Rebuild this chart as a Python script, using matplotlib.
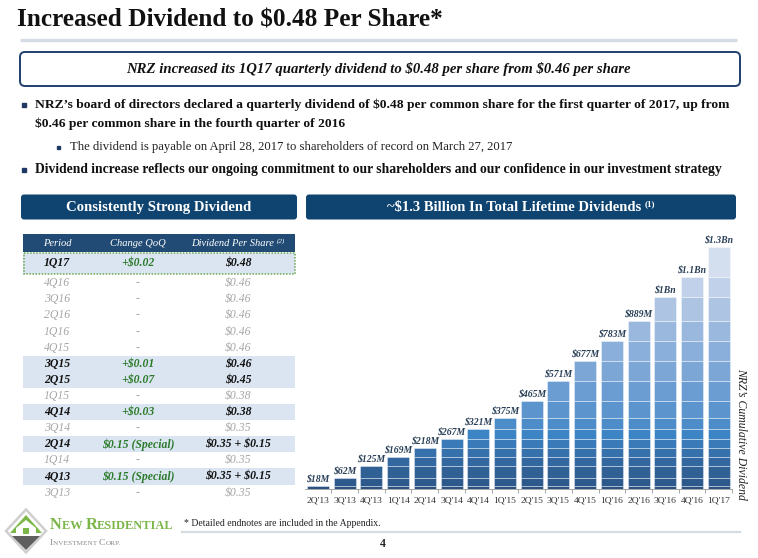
"""NRZ dividend slide: per-share table on the left, cumulative dividends on the right."""

import matplotlib.pyplot as plt
from matplotlib.colors import LinearSegmentedColormap
from matplotlib.patches import FancyBboxPatch, Polygon, Rectangle

plt.rcParams["text.parse_math"] = False
plt.rcParams["font.family"] = ["Liberation Serif", "DejaVu Serif"]

W, H = 758, 558
NAVY = "#0f4470"
NAVY_HDR = "#214b74"
LIGHT_ROW = "#dbe5f1"
GREEN = "#2b7a2b"
GREY_TXT = "#a6a6a6"
LABEL_CLR = "#2a4058"

# cumulative dividends ($M) per quarter
quarters = ["2Q'13", "3Q'13", "4Q'13", "1Q'14", "2Q'14", "3Q'14", "4Q'14", "1Q'15",
            "2Q'15", "3Q'15", "4Q'15", "1Q'16", "2Q'16", "3Q'16", "4Q'16", "1Q'17"]
cumulative_m = [18, 62, 125, 169, 218, 267, 321, 375, 465, 571, 677, 783, 889, 1015, 1125, 1280]
value_labels = ["$18M", "$62M", "$125M", "$169M", "$218M", "$267M", "$321M", "$375M",
                "$465M", "$571M", "$677M", "$783M", "$889M", "$1Bn", "$1.1Bn", "$1.3Bn"]

# dividend table
periods = ["1Q17", "4Q16", "3Q16", "2Q16", "1Q16", "4Q15", "3Q15", "2Q15", "1Q15",
           "4Q14", "3Q14", "2Q14", "1Q14", "4Q13", "3Q13"]
changes = ["+$0.02", "-", "-", "-", "-", "-", "+$0.01", "+$0.07", "-", "+$0.03", "-",
           "$0.15 (Special)", "-", "$0.15 (Special)", "-"]
dividends = ["$0.48", "$0.46", "$0.46", "$0.46", "$0.46", "$0.46", "$0.46", "$0.45", "$0.38",
             "$0.38", "$0.35", "$0.35 + $0.15", "$0.35", "$0.35 + $0.15", "$0.35"]
changed = [c != "-" for c in changes]

fig = plt.figure(figsize=(W / 100, H / 100), dpi=100)
bg = fig.add_axes([0, 0, 1, 1])
bg.set_xlim(0, W)
bg.set_ylim(H, 0)
bg.axis("off")
renderer = fig.canvas.get_renderer()


def width(t):
    return t.get_window_extent(renderer=renderer).width


def runs(x, y, parts, ha="left", **common):
    """Draw consecutive text pieces (text, style, dy) on one line."""
    objs, cx = [], x
    for txt, kw, dy in parts:
        t = bg.text(cx, y + dy, txt, ha="left", va="center", **{**common, **kw})
        cx += width(t)
        objs.append(t)
    if ha == "center":
        shift = (cx - x) / 2
        for t in objs:
            t.set_x(t.get_position()[0] - shift)
    return objs


# title + rule
bg.text(17, 20, "Increased Dividend to $0.48 Per Share*", fontsize=18.2,
        fontweight="bold", va="center", color="#111")
bg.plot([20, 737], [40, 40], color="#d5dbe2", lw=2.4, solid_capstyle="butt")

# summary box
bg.add_patch(FancyBboxPatch((20, 52), 720, 34, boxstyle="round,pad=0,rounding_size=5",
                            fc="white", ec="#1f3f6b", lw=1.4))
bg.text(378, 69, "NRZ increased its 1Q17 quarterly dividend to $0.48 per share from $0.46 per share",
        ha="center", va="center", fontsize=10.6, fontweight="bold", fontstyle="italic", color="#111")

# bullets
for by, bx, sz in [(105, 22, 4), (170, 22, 4), (147, 57, 3)]:
    bg.add_patch(Rectangle((bx, by - sz / 2), sz, sz, color="#1f3864"))
bg.text(35, 105, "NRZ\u2019s board of directors declared a quarterly dividend of $0.48 per common share "
        "for the first quarter of 2017, up from", fontsize=9.7, fontweight="bold", va="center", color="#111")
bg.text(35, 124, "$0.46 per common share in the fourth quarter of 2016",
        fontsize=9.7, fontweight="bold", va="center", color="#111")
bg.text(70, 147, "The dividend is payable on April 28, 2017 to shareholders of record on March 27, 2017",
        fontsize=9.1, va="center", color="#222")
bg.text(35, 170, "Dividend increase reflects our ongoing commitment to our shareholders and our "
        "confidence in our investment strategy", fontsize=9.85, fontweight="bold", va="center", color="#111")

# section headers
for x0, x1 in [(21, 297), (306, 736)]:
    bg.add_patch(FancyBboxPatch((x0, 194.5), x1 - x0, 25, boxstyle="round,pad=0,rounding_size=3",
                                fc=NAVY, ec="none"))
bg.text(159, 207, "Consistently Strong Dividend", ha="center", va="center",
        fontsize=10.6, fontweight="bold", color="white")
runs(521, 207, [("~$1.3 Billion In Total Lifetime Dividends ", {"fontsize": 10.5}, 0),
                ("(1)", {"fontsize": 6.5}, -3)], ha="center", fontweight="bold", color="white")

# table
COLS = [57, 138, 238]
bg.add_patch(Rectangle((23, 234), 272, 18, fc=NAVY_HDR, ec="none"))
for cx, lab in zip(COLS[:2], ["Period", "Change QoQ"]):
    bg.text(cx, 243, lab, ha="center", va="center", fontsize=7.6, fontstyle="italic", color="white")
runs(238, 243, [("Dividend Per Share ", {"fontsize": 7.6}, 0), ("(2)", {"fontsize": 5}, -2)],
     ha="center", fontstyle="italic", color="white")

row_y = [263.3] + [283.3 + 16.1 * k for k in range(len(periods) - 1)]
for i, (p, c, d, hi) in enumerate(zip(periods, changes, dividends, changed)):
    y = row_y[i]
    if hi:
        h = 21 if i == 0 else 16.1
        bg.add_patch(Rectangle((23, y - h / 2), 272, h, fc=LIGHT_ROW, ec="none", zorder=0))
        style = dict(fontsize=8.5, fontweight="bold", fontstyle="italic")
        bg.text(COLS[0], y, p, ha="center", va="center", color="#111", **style)
        bg.text(COLS[1], y, c, ha="center", va="center", color=GREEN, **style)
        bg.text(COLS[2], y, d, ha="center", va="center", color="#111", **style)
    else:
        style = dict(fontsize=8.5, fontstyle="italic", color=GREY_TXT)
        bg.text(COLS[0], y, p, ha="center", va="center", **style)
        bg.text(COLS[1], y, c, ha="center", va="center", **style)
        bg.text(COLS[2], y, d, ha="center", va="center", **style)
bg.add_patch(Rectangle((23.5, 252.5), 271, 21, fc="none", ec="#6aa84f", lw=1.1, ls=(0, (1, 1))))

# cumulative bar chart: each bar stacks all quarterly increments so far
ax = fig.add_axes([304.6 / W, (H - 489.3) / H, 427.5 / W, (489.3 - 230) / H])
cmap = LinearSegmentedColormap.from_list(
    "nrz", ["#2c5282", "#33679f", "#3d84c4", "#6b9dd2", "#9ab8de", "#d3deee"])
xs = list(range(len(quarters)))
prev = 0
for i, cum in enumerate(cumulative_m):
    ax.bar(xs[i:], cum - prev, bottom=prev, width=0.82, color=cmap(i / (len(quarters) - 1)),
           edgecolor=(1, 1, 1, 0.45), linewidth=0.6)
    prev = cum
for x, cum, lab in zip(xs, cumulative_m, value_labels):
    ax.annotate(lab, (x, cum), xytext=(0, 2), textcoords="offset points", ha="center", va="bottom",
                fontsize=7, fontweight="bold", fontstyle="italic", color=LABEL_CLR)
ax.set_xlim(-0.5, len(quarters) - 0.5)
ax.set_ylim(0, 259.3 / 0.18905)
ax.set_xticks(xs)
ax.set_xticklabels(quarters, fontsize=6.8, color="#333")
ax.set_xticks([x + 0.5 for x in xs], minor=True)
ax.tick_params(axis="x", which="major", length=0, pad=5)
ax.tick_params(axis="x", which="minor", length=3, width=0.6, color="#999")
ax.set_yticks([])
for s in ("top", "left", "right"):
    ax.spines[s].set_visible(False)
ax.spines["bottom"].set_color("#999")
ax.spines["bottom"].set_linewidth(0.6)
ax.patch.set_alpha(0)
bg.text(741, 434, "NRZ\u2019s Cumulative Dividend", rotation=-90, ha="center", va="center",
        fontsize=8.5, fontstyle="italic", color="#222")

# footer logo
bg.add_patch(Polygon([(26, 509.5), (46, 531), (26, 552.5), (6, 531)], closed=True,
                     fc="white", ec="#cfcfcf", lw=1.8))
bg.add_patch(Polygon([(12, 536), (40, 536), (26, 550)], closed=True, fc="#5f5f5f", ec="none"))
bg.add_patch(Polygon([(10, 533), (26, 515), (42, 533)], closed=True, fc="#7ab648", ec="none"))
bg.add_patch(Polygon([(16, 534), (16, 528), (26, 520), (36, 528), (36, 534)], closed=True,
                     fc="white", ec="none"))
bg.add_patch(Rectangle((23, 528), 6, 6, fc="#7ab648", ec="none"))
runs(50, 525, [("N", {"fontsize": 11.8}, 0), ("EW ", {"fontsize": 8.9}, 0.6),
               ("R", {"fontsize": 11.8}, 0), ("ESIDENTIAL", {"fontsize": 8.9}, 0.6)],
     color="#7ab648", fontweight="bold")
runs(50, 543, [("I", {"fontsize": 6.8}, 0), ("NVESTMENT ", {"fontsize": 5.2}, 0.4),
               ("C", {"fontsize": 6.8}, 0), ("ORP.", {"fontsize": 5.2}, 0.4)],
     color="#8a8a8a")

# footnote + page number
bg.text(184, 523, "* Detailed endnotes are included in the Appendix.", fontsize=7,
        va="center", color="#222")
bg.plot([182, 740], [532, 532], color="#d5dbe2", lw=1.6)
bg.text(383, 544, "4", fontsize=8.5, fontweight="bold", ha="center", va="center", color="#222")

fig.savefig("out.png", dpi=100)
